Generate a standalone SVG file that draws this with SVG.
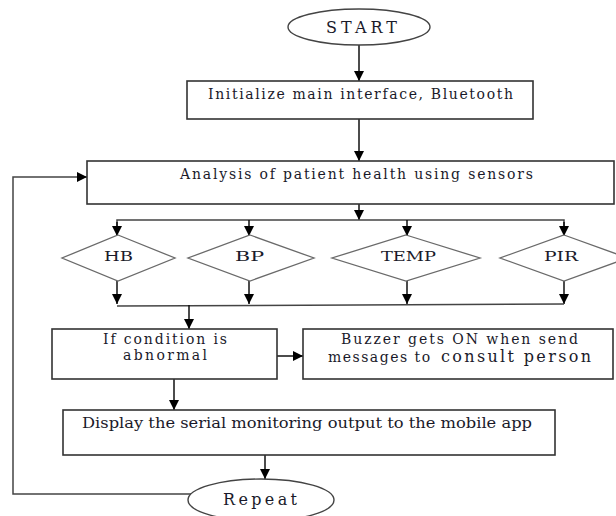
<svg xmlns="http://www.w3.org/2000/svg" width="616" height="516" viewBox="0 0 616 516">
<style>
.box{fill:#fff;stroke:#333;stroke-width:1.6}
.dia{fill:#fff;stroke:#6a6a6a;stroke-width:1.3}
.term{fill:#fff;stroke:#444;stroke-width:1.4}
.t{font-family:"DejaVu Serif","Liberation Serif",serif;font-size:14px;fill:#1a1a2a}
.big{font-size:16px}
.d{font-size:12.5px}
.c{fill:none;stroke:#111;stroke-width:1.5}
.g{fill:none;stroke:#444;stroke-width:1.5}
</style>
<defs>
<marker id="ah" viewBox="0 0 10 10" refX="10" refY="5" markerWidth="10" markerHeight="10" markerUnits="userSpaceOnUse" orient="auto">
<path d="M0,0 L10,5 L0,10 z" fill="#000"/>
</marker>
</defs>
<rect width="616" height="516" fill="#fff"/>
<g id="connectors">
<line class="c" x1="359" y1="45" x2="359" y2="81" marker-end="url(#ah)"/>
<line class="c" x1="359" y1="119" x2="359" y2="161" marker-end="url(#ah)"/>
<line class="c" x1="359" y1="204" x2="359" y2="220" marker-end="url(#ah)"/>
<polyline class="g" points="117,235 117,220 564,220 564,235"/>
<line class="c" x1="117" y1="222" x2="117" y2="236" marker-end="url(#ah)"/>
<line class="c" x1="249" y1="220" x2="249" y2="236" marker-end="url(#ah)"/>
<line class="c" x1="407" y1="220" x2="407" y2="236" marker-end="url(#ah)"/>
<line class="c" x1="564" y1="222" x2="564" y2="236" marker-end="url(#ah)"/>
<line class="c" x1="117" y1="281" x2="117" y2="304" marker-end="url(#ah)"/>
<line class="c" x1="249" y1="281" x2="249" y2="304" marker-end="url(#ah)"/>
<line class="c" x1="407" y1="281" x2="407" y2="304" marker-end="url(#ah)"/>
<line class="c" x1="564" y1="281" x2="564" y2="304" marker-end="url(#ah)"/>
<line class="g" x1="117" y1="306" x2="564" y2="304"/>
<line class="c" x1="189" y1="305" x2="189" y2="329" marker-end="url(#ah)"/>
<line class="c" x1="277" y1="356" x2="303" y2="356" marker-end="url(#ah)"/>
<line class="c" x1="174" y1="379" x2="174" y2="410" marker-end="url(#ah)"/>
<line class="c" x1="265" y1="455" x2="265" y2="479" marker-end="url(#ah)"/>
<polyline class="g" points="191,494 13,494 13,177 87,177" marker-end="url(#ah)"/>
</g>
<g id="start">
<ellipse class="term" cx="359" cy="27" rx="71" ry="18"/>
<text class="t big" x="326" y="33" textLength="71" lengthAdjust="spacing">START</text>
</g>
<g id="init">
<rect class="box" x="187" y="81" width="346" height="38"/>
<text class="t" x="208" y="99" textLength="305" lengthAdjust="spacing">Initialize main interface, Bluetooth</text>
</g>
<g id="analysis">
<rect class="box" x="87" y="161" width="527" height="43"/>
<text class="t" x="180" y="179" textLength="353" lengthAdjust="spacing">Analysis of patient health using sensors</text>
</g>
<g id="hb">
<polygon class="dia" points="118,235 175,258 118,281 62,258"/>
<text class="t d" x="104" y="261" textLength="29" lengthAdjust="spacingAndGlyphs">HB</text>
</g>
<g id="bp">
<polygon class="dia" points="250,235 314,258 250,281 188,258"/>
<text class="t d" x="235" y="261" textLength="29" lengthAdjust="spacingAndGlyphs">BP</text>
</g>
<g id="temp">
<polygon class="dia" points="406,235 480,258 406,281 332,258"/>
<text class="t d" x="381" y="261" textLength="55" lengthAdjust="spacingAndGlyphs">TEMP</text>
</g>
<g id="pir">
<polygon class="dia" points="564,235 628,258 564,281 500,258"/>
<text class="t d" x="544" y="261" textLength="34" lengthAdjust="spacingAndGlyphs">PIR</text>
</g>
<g id="condition">
<rect class="box" x="52" y="329" width="225" height="50"/>
<text class="t" x="103" y="344" textLength="124" lengthAdjust="spacing">If condition is</text>
<text class="t" x="123" y="360" textLength="84" lengthAdjust="spacing">abnormal</text>
</g>
<g id="buzzer">
<rect class="box" x="303" y="329" width="310" height="50"/>
<text class="t" x="341" y="344" textLength="237" lengthAdjust="spacing">Buzzer gets ON when send</text>
<text class="t" x="328" y="362"><tspan textLength="108" lengthAdjust="spacing">messages to </tspan><tspan class="big" x="441" textLength="150" lengthAdjust="spacing">consult person</tspan></text>
</g>
<g id="display">
<rect class="box" x="63" y="410" width="492" height="45"/>
<text class="t" x="82" y="428" textLength="450" lengthAdjust="spacingAndGlyphs">Display the serial monitoring output to the mobile app</text>
</g>
<g id="repeat">
<ellipse class="term" cx="261" cy="500" rx="73" ry="21"/>
<text class="t big" x="223" y="505" textLength="74" lengthAdjust="spacing">Repeat</text>
</g>
</svg>
